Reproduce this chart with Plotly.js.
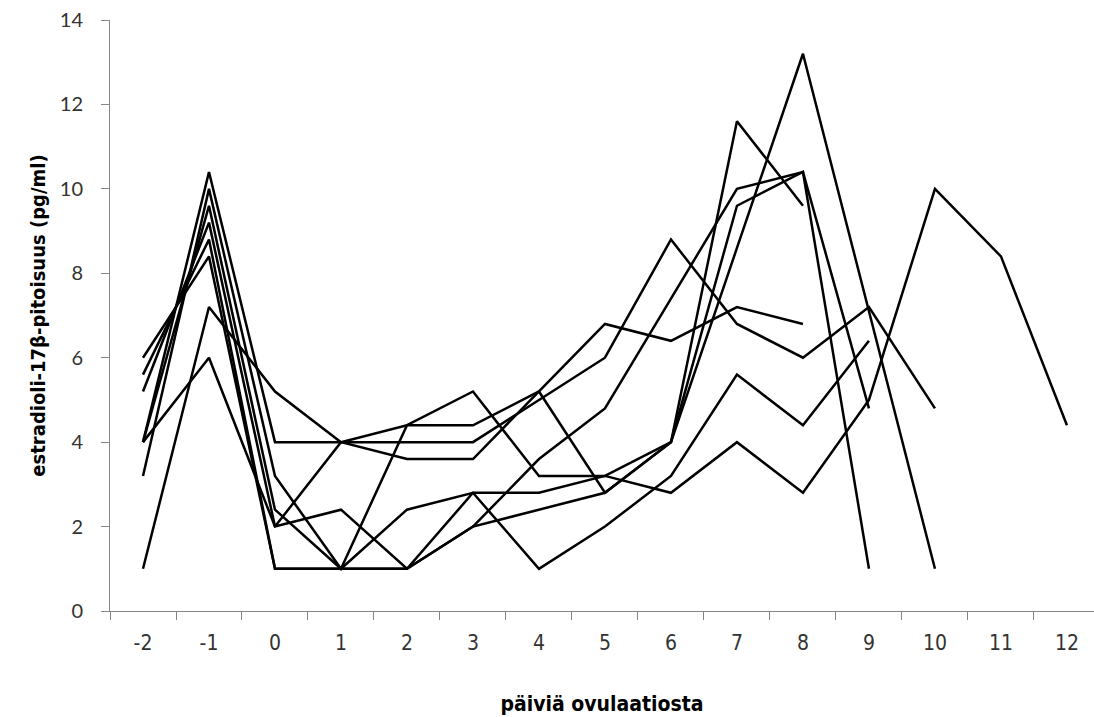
<!DOCTYPE html>
<html>
<head>
<meta charset="utf-8">
<script src="https://cdn.plot.ly/plotly-3.0.1.min.js"></script>
<style>html,body{margin:0;padding:0;background:#fff;}#chart{width:1094px;height:717px;}</style>
</head>
<body>
<div id="chart"></div>
<script>
const days = ["-2","-1","0","1","2","3","4","5","6","7","8","9","10","11","12"];
const s1 = [4.0, 10.4, 4.0, 4.0, 4.4, 4.4, 5.2, 2.8, 4.0, 11.6, 9.6];
const s2 = [4.0, 6.0, 2.0, 4.0, 3.6, 3.6, 5.2, 6.8, 6.4, 7.2, 6.8];
const s3 = [1.0, 7.2, 5.2, 4.0, 4.0, 4.0, 5.0, 6.0, 8.8, 6.8, 6.0, 7.2, 4.8];
const s4 = [4.0, 9.6, 2.4, 1.0, 2.4, 2.8, 1.0, 2.0, 3.2, 5.6, 4.4, 6.4];
const s5 = [3.2, 10.0, 3.2, 1.0, 4.4, 5.2, 3.2, 3.2, 2.8, 4.0, 2.8, 5.0, 10.0, 8.4, 4.4];
const s6 = [5.2, 9.2, 2.0, 2.4, 1.0, 2.0, 3.6, 4.8, 7.4, 10.0, 10.4, 4.8];
const s7 = [5.6, 8.8, 1.0, 1.0, 1.0, 2.0, 2.4, 2.8, 4.0, 9.6, 10.4, 1.0];
const s8 = [6.0, 8.4, 1.0, 1.0, 1.0, 2.8, 2.8, 3.2, 4.0, 8.6, 13.2, 7.1, 1.0];
const series = [s1, s2, s3, s4, s5, s6, s7, s8];
const yTicks = [0, 2, 4, 6, 8, 10, 12, 14];

const narrow = '"DejaVu Sans Condensed", Lato, sans-serif';

const traces = series.map(s => ({
  type: 'scatter', mode: 'lines',
  x: days.slice(0, s.length), y: s,
  line: {color: '#000000', width: 2.5},
  hoverinfo: 'skip', showlegend: false
}));

const layout = {
  width: 1094, height: 717,
  margin: {l: 110, r: 0, t: 20, b: 106},
  paper_bgcolor: '#ffffff', plot_bgcolor: '#ffffff',
  font: {family: 'Lato, "Open Sans", sans-serif', color: '#404040'},
  xaxis: {
    type: 'category', categoryorder: 'array', categoryarray: days,
    range: [-0.5, 14.41],
    showline: true, linecolor: '#868686', linewidth: 1,
    ticks: 'outside', tickson: 'boundaries', ticklen: 8, tickcolor: '#868686',
    showgrid: false, zeroline: false,
    tickfont: {size: 21, color: '#333333', family: narrow},
    ticklabelstandoff: 13,
    title: {text: 'päiviä ovulaatiosta', standoff: 42,
      font: {size: 21, color: '#000000', family: narrow, weight: 'bold'}},
    fixedrange: true
  },
  yaxis: {
    range: [0, 14], tickvals: yTicks, ticktext: yTicks.map(String),
    showline: true, linecolor: '#868686', linewidth: 1,
    ticks: 'outside', ticklen: 8, tickcolor: '#868686',
    showgrid: false, zeroline: false,
    tickfont: {size: 20, color: '#333333', family: 'Lato, sans-serif'},
    ticklabelstandoff: 14,
    title: {text: 'estradioli-17β-pitoisuus (pg/ml)', standoff: 8,
      font: {size: 20, color: '#000000', family: narrow, weight: 'bold'}},
    fixedrange: true
  }
};

Plotly.newPlot('chart', traces, layout, {displayModeBar: false, staticPlot: true});
</script>
</body>
</html>
